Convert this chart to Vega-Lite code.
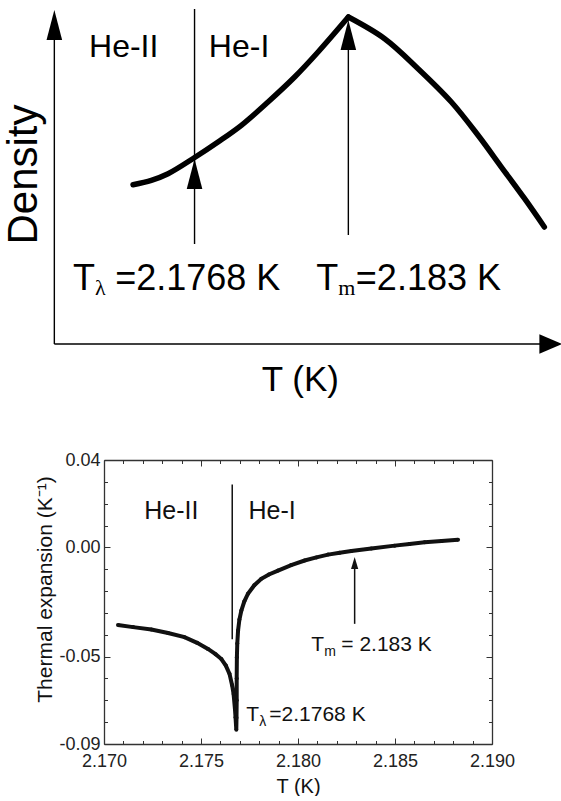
{
  "$schema": "https://vega.github.io/schema/vega-lite/v6.json",
  "padding": {"left": 3, "top": 6, "right": 0, "bottom": 0},
  "spacing": 53,
  "config": {
    "view": {"stroke": null},
    "font": "Liberation Sans",
    "axis": {"grid": false, "labelFont": "Liberation Sans", "titleFont": "Liberation Sans", "titleFontWeight": "normal", "labelColor": "#222", "titleColor": "#111", "domainColor": "#333", "tickColor": "#333", "labelFlush": false, "labelOverlap": false, "labelBound": false}
  },
  "datasets": {
    "topCurve": [
      {"seg": "a", "T": 2.174321, "D": 0.4770},
      {"seg": "a", "T": 2.175058, "D": 0.4901},
      {"seg": "a", "T": 2.175732, "D": 0.5099},
      {"seg": "a", "T": 2.176804, "D": 0.5584},
      {"seg": "a", "T": 2.177747, "D": 0.6048},
      {"seg": "a", "T": 2.178687, "D": 0.6548},
      {"seg": "a", "T": 2.179763, "D": 0.7246},
      {"seg": "a", "T": 2.180835, "D": 0.7994},
      {"seg": "a", "T": 2.181779, "D": 0.8743},
      {"seg": "a", "T": 2.183000, "D": 0.9790},
      {"seg": "b", "T": 2.183000, "D": 0.9790},
      {"seg": "b", "T": 2.184463, "D": 0.9141},
      {"seg": "b", "T": 2.185810, "D": 0.8243},
      {"seg": "b", "T": 2.187152, "D": 0.7246},
      {"seg": "b", "T": 2.188229, "D": 0.6249},
      {"seg": "b", "T": 2.189168, "D": 0.5299},
      {"seg": "b", "T": 2.190107, "D": 0.4350},
      {"seg": "b", "T": 2.190901, "D": 0.3503}
    ],
    "topLines": [
      {"T": 2.171148, "T2": 2.171148, "D": 0, "D2": 0.97},
      {"T": 2.171148, "T2": 2.1912, "D": 0, "D2": 0},
      {"T": 2.1768, "T2": 2.1768, "D": 0.2994, "D2": 1.003},
      {"T": 2.183, "T2": 2.183, "D": 0.3263, "D2": 0.95}
    ],
    "topUp": [
      {"T": 2.171148, "D": 1.0},
      {"T": 2.1768, "D": 0.5539},
      {"T": 2.183, "D": 0.9701}
    ],
    "topRight": [{"T": 2.191627, "D": 0}],
    "topHe": [
      {"label": "He-II", "T": 2.172547, "D": 0.8593},
      {"label": "He-I", "T": 2.177376, "D": 0.8593}
    ],
    "topT": [
      {"label": "T", "T": 2.171898, "D": 0.1617},
      {"label": "=2.1768 K", "T": 2.173599, "D": 0.1617},
      {"label": "T", "T": 2.181702, "D": 0.1617},
      {"label": "=2.183 K", "T": 2.183302, "D": 0.1617}
    ],
    "topSub": [
      {"label": "λ", "T": 2.172789, "D": 0.1467},
      {"label": "m", "T": 2.182597, "D": 0.1467}
    ],
    "topXTitle": [{"label": "T (K)", "T": 2.181065, "D": -0.1407}],
    "topYTitle": [{"label": "Density", "T": 2.169939, "D": 0.5075}],
    "alpha": [
      {"i": 1, "T": 2.17072, "a": -0.0355},
      {"i": 2, "T": 2.17150, "a": -0.0365},
      {"i": 3, "T": 2.17244, "a": -0.0376},
      {"i": 4, "T": 2.17330, "a": -0.0392},
      {"i": 5, "T": 2.17415, "a": -0.0411},
      {"i": 6, "T": 2.17480, "a": -0.0437},
      {"i": 7, "T": 2.17536, "a": -0.0465},
      {"i": 8, "T": 2.17575, "a": -0.0489},
      {"i": 9, "T": 2.17605, "a": -0.0511},
      {"i": 10, "T": 2.17628, "a": -0.0541},
      {"i": 11, "T": 2.17647, "a": -0.0579},
      {"i": 12, "T": 2.17660, "a": -0.0630},
      {"i": 13, "T": 2.17668, "a": -0.0671},
      {"i": 14, "T": 2.17675, "a": -0.0740},
      {"i": 15, "T": 2.17678, "a": -0.0778},
      {"i": 16, "T": 2.17682, "a": -0.0835},
      {"i": 17, "T": 2.17683, "a": -0.0780},
      {"i": 18, "T": 2.17684, "a": -0.0700},
      {"i": 19, "T": 2.17684, "a": -0.0600},
      {"i": 20, "T": 2.17685, "a": -0.0503},
      {"i": 21, "T": 2.17687, "a": -0.0440},
      {"i": 22, "T": 2.17691, "a": -0.0381},
      {"i": 23, "T": 2.17698, "a": -0.0330},
      {"i": 24, "T": 2.17708, "a": -0.0289},
      {"i": 25, "T": 2.17723, "a": -0.0248},
      {"i": 26, "T": 2.17742, "a": -0.0212},
      {"i": 27, "T": 2.17775, "a": -0.0173},
      {"i": 28, "T": 2.17811, "a": -0.0144},
      {"i": 29, "T": 2.17850, "a": -0.0124},
      {"i": 30, "T": 2.17897, "a": -0.0106},
      {"i": 31, "T": 2.17965, "a": -0.0081},
      {"i": 32, "T": 2.18034, "a": -0.0060},
      {"i": 33, "T": 2.18095, "a": -0.0046},
      {"i": 34, "T": 2.18155, "a": -0.0033},
      {"i": 35, "T": 2.18215, "a": -0.0025},
      {"i": 36, "T": 2.18275, "a": -0.0017},
      {"i": 37, "T": 2.18378, "a": -0.0005},
      {"i": 38, "T": 2.18498, "a": 0.0008},
      {"i": 39, "T": 2.18575, "a": 0.0016},
      {"i": 40, "T": 2.18653, "a": 0.0023},
      {"i": 41, "T": 2.18740, "a": 0.0029},
      {"i": 42, "T": 2.18825, "a": 0.0035}
    ],
    "botLines": [
      {"T": 2.17661, "a": -0.042, "a2": 0.0288},
      {"T": 2.18292, "a": -0.035, "a2": -0.009}
    ],
    "botArrow": [{"T": 2.18292, "a": -0.0044}],
    "botHe": [
      {"label": "He-II", "T": 2.172077, "a": 0.01284},
      {"label": "He-I", "T": 2.17745, "a": 0.01284}
    ],
    "botT": [
      {"label": "T", "T": 2.180686, "a": -0.04725},
      {"label": "= 2.183 K", "T": 2.182232, "a": -0.04725},
      {"label": "T", "T": 2.177335, "a": -0.07936},
      {"label": "=2.1768 K", "T": 2.178521, "a": -0.07936}
    ],
    "botSub": [
      {"label": "m", "T": 2.181356, "a": -0.04954},
      {"label": "λ", "T": 2.178005, "a": -0.08165}
    ]
  },
  "vconcat": [
    {
      "width": 388,
      "height": 334,
      "layer": [
        {
          "data": {"name": "topCurve"},
          "mark": {"type": "line", "color": "black", "strokeWidth": 5.5, "strokeCap": "round", "interpolate": "catmull-rom"},
          "encoding": {
            "x": {"field": "T", "type": "quantitative", "scale": {"domain": [2.17315, 2.188791], "zero": false, "nice": false}, "axis": null},
            "y": {"field": "D", "type": "quantitative", "scale": {"domain": [0, 1], "zero": false, "nice": false}, "axis": null},
            "detail": {"field": "seg"}
          }
        },
        {
          "data": {"name": "topLines"},
          "mark": {"type": "rule", "color": "black", "strokeWidth": 1.4},
          "encoding": {
            "x": {"field": "T", "type": "quantitative", "axis": null},
            "x2": {"field": "T2"},
            "y": {"field": "D", "type": "quantitative", "axis": null},
            "y2": {"field": "D2"}
          }
        },
        {
          "data": {"name": "topUp"},
          "mark": {"type": "point", "shape": "M0,0L0.52,2L-0.52,2Z", "size": 900, "filled": true, "color": "black", "opacity": 1, "strokeWidth": 0},
          "encoding": {
            "x": {"field": "T", "type": "quantitative", "axis": null},
            "y": {"field": "D", "type": "quantitative", "axis": null}
          }
        },
        {
          "data": {"name": "topRight"},
          "mark": {"type": "point", "shape": "M0,0L-2,-0.85L-2,0.85Z", "size": 529, "filled": true, "color": "black", "opacity": 1, "strokeWidth": 0},
          "encoding": {
            "x": {"field": "T", "type": "quantitative", "axis": null},
            "y": {"field": "D", "type": "quantitative", "axis": null}
          }
        },
        {
          "data": {"name": "topHe"},
          "mark": {"type": "text", "align": "left", "baseline": "alphabetic", "fontSize": 32, "color": "black"},
          "encoding": {
            "x": {"field": "T", "type": "quantitative", "axis": null},
            "y": {"field": "D", "type": "quantitative", "axis": null},
            "text": {"field": "label"}
          }
        },
        {
          "data": {"name": "topT"},
          "mark": {"type": "text", "align": "left", "baseline": "alphabetic", "fontSize": 36, "color": "black"},
          "encoding": {
            "x": {"field": "T", "type": "quantitative", "axis": null},
            "y": {"field": "D", "type": "quantitative", "axis": null},
            "text": {"field": "label"}
          }
        },
        {
          "data": {"name": "topSub"},
          "mark": {"type": "text", "align": "left", "baseline": "alphabetic", "fontSize": 22, "font": "Liberation Serif", "color": "black"},
          "encoding": {
            "x": {"field": "T", "type": "quantitative", "axis": null},
            "y": {"field": "D", "type": "quantitative", "axis": null},
            "text": {"field": "label"}
          }
        },
        {
          "data": {"name": "topXTitle"},
          "mark": {"type": "text", "align": "center", "baseline": "alphabetic", "fontSize": 35, "color": "black"},
          "encoding": {
            "x": {"field": "T", "type": "quantitative", "axis": null},
            "y": {"field": "D", "type": "quantitative", "axis": null},
            "text": {"field": "label"}
          }
        },
        {
          "data": {"name": "topYTitle"},
          "mark": {"type": "text", "align": "center", "baseline": "middle", "angle": 270, "fontSize": 42, "color": "black"},
          "encoding": {
            "x": {"field": "T", "type": "quantitative", "axis": null},
            "y": {"field": "D", "type": "quantitative", "axis": null},
            "text": {"field": "label"}
          }
        }
      ]
    },
    {
      "width": 388,
      "height": 284,
      "resolve": {"axis": {"x": "independent", "y": "independent"}},
      "layer": [
        {
          "data": {"name": "alpha"},
          "mark": {"type": "line", "color": "#111", "strokeWidth": 4},
          "encoding": {
            "x": {"field": "T", "type": "quantitative", "scale": {"domain": [2.170, 2.190], "zero": false, "nice": false},
                  "axis": {"orient": "bottom", "values": [2.170, 2.175, 2.180, 2.185, 2.190], "format": ".3f", "tickSize": -6, "labelPadding": 14, "labelFontSize": 18, "title": "T (K)", "titleFontSize": 20, "titlePadding": 6, "domainWidth": 1.3}},
            "y": {"field": "a", "type": "quantitative", "scale": {"domain": [-0.09, 0.04], "zero": false, "nice": false},
                  "axis": {"orient": "left", "values": [0.04, 0, -0.05, -0.09], "labelExpr": "datum.value < 0 ? '-' + format(-datum.value, '.2f') : format(datum.value, '.2f')", "tickSize": -6, "labelPadding": 10, "labelFontSize": 18, "title": "Thermal expansion (K⁻¹)", "titleFontSize": 21, "titlePadding": 3, "titleY": 129, "domainWidth": 1.3}},
            "order": {"field": "i"}
          }
        },
        {
          "data": {"name": "botLines"},
          "mark": {"type": "rule", "color": "#111", "strokeWidth": 1.5},
          "encoding": {
            "x": {"field": "T", "type": "quantitative", "scale": {"domain": [2.170, 2.190], "zero": false, "nice": false},
                  "axis": {"orient": "top", "values": [2.170, 2.175, 2.180, 2.185, 2.190], "tickSize": -6, "labels": false, "title": null, "domainWidth": 1.3}},
            "y": {"field": "a", "type": "quantitative", "scale": {"domain": [-0.09, 0.04], "zero": false, "nice": false},
                  "axis": {"orient": "right", "values": [0.04, 0, -0.05, -0.09], "tickSize": -6, "labels": false, "title": null, "domainWidth": 1.3}},
            "y2": {"field": "a2"}
          }
        },
        {
          "data": {"name": "botArrow"},
          "mark": {"type": "point", "shape": "M0,0L0.6,2L-0.6,2Z", "size": 144, "filled": true, "color": "#111", "opacity": 1, "strokeWidth": 0},
          "encoding": {
            "x": {"field": "T", "type": "quantitative", "scale": {"domain": [2.170, 2.190], "zero": false, "nice": false},
                  "axis": {"orient": "bottom", "values": [2.171, 2.172, 2.173, 2.174, 2.176, 2.177, 2.178, 2.179, 2.181, 2.182, 2.183, 2.184, 2.186, 2.187, 2.188, 2.189], "tickSize": -3.5, "labels": false, "domain": false, "title": null}},
            "y": {"field": "a", "type": "quantitative", "scale": {"domain": [-0.09, 0.04], "zero": false, "nice": false},
                  "axis": {"orient": "left", "values": [0.03, 0.02, 0.01, -0.01, -0.02, -0.03, -0.04, -0.06, -0.07, -0.08], "tickSize": -3.5, "labels": false, "domain": false, "title": null}}
          }
        },
        {
          "data": {"name": "alpha"},
          "mark": {"type": "point", "size": 16, "filled": true, "color": "#111", "opacity": 1},
          "encoding": {
            "x": {"field": "T", "type": "quantitative", "scale": {"domain": [2.170, 2.190], "zero": false, "nice": false},
                  "axis": {"orient": "top", "values": [2.171, 2.172, 2.173, 2.174, 2.176, 2.177, 2.178, 2.179, 2.181, 2.182, 2.183, 2.184, 2.186, 2.187, 2.188, 2.189], "tickSize": -3.5, "labels": false, "domain": false, "title": null}},
            "y": {"field": "a", "type": "quantitative", "scale": {"domain": [-0.09, 0.04], "zero": false, "nice": false},
                  "axis": {"orient": "right", "values": [0.03, 0.02, 0.01, -0.01, -0.02, -0.03, -0.04, -0.06, -0.07, -0.08], "tickSize": -3.5, "labels": false, "domain": false, "title": null}}
          }
        },
        {
          "data": {"name": "botHe"},
          "mark": {"type": "text", "align": "left", "baseline": "alphabetic", "fontSize": 25, "color": "#111"},
          "encoding": {
            "x": {"field": "T", "type": "quantitative", "axis": null},
            "y": {"field": "a", "type": "quantitative", "axis": null},
            "text": {"field": "label"}
          }
        },
        {
          "data": {"name": "botT"},
          "mark": {"type": "text", "align": "left", "baseline": "alphabetic", "fontSize": 21, "color": "#111"},
          "encoding": {
            "x": {"field": "T", "type": "quantitative", "axis": null},
            "y": {"field": "a", "type": "quantitative", "axis": null},
            "text": {"field": "label"}
          }
        },
        {
          "data": {"name": "botSub"},
          "mark": {"type": "text", "align": "left", "baseline": "alphabetic", "fontSize": 14, "color": "#111"},
          "encoding": {
            "x": {"field": "T", "type": "quantitative", "axis": null},
            "y": {"field": "a", "type": "quantitative", "axis": null},
            "text": {"field": "label"}
          }
        }
      ]
    }
  ]
}
